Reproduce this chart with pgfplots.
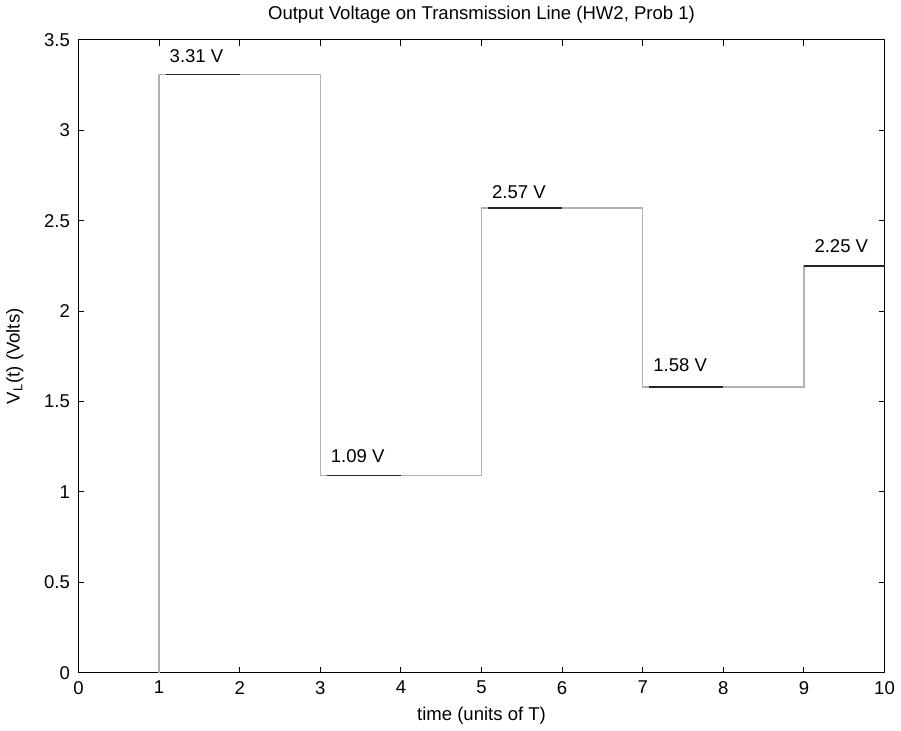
\documentclass[border=0pt]{standalone}
\usepackage{pgfplots}
\pgfplotsset{compat=1.18}
\usepackage{fontspec}
\setmainfont{Liberation Sans}

\begin{document}
\fontsize{9.3}{11}\selectfont
\begin{tikzpicture}
\begin{axis}[
  scale only axis, width=404.5pt, height=317.5pt,
  xmin=0, xmax=10, ymin=0, ymax=3.5,
  xtick={0,1,...,10}, ytick={0,0.5,...,3.5},
  tick align=inside, tick pos=both,
  major tick length=3pt,
  axis line style={line width=0.5pt},
  every tick/.style={black, line width=0.5pt},
  /pgf/number format/assume math mode=true,
  yticklabel style={/pgf/number format/fixed, /pgf/number format/precision=1, xshift=-1pt},
  xticklabel style={yshift=-1pt},
  tick label style={font=\fontsize{9.3}{11}\selectfont},
  title={Output Voltage on Transmission Line (HW2, Prob 1)},
  title style={font=\fontsize{9.3}{11}\selectfont, yshift=-1pt},
  xlabel={time (units of T)},
  ylabel={V\textsubscript{L}(t) (Volts)},
  xlabel style={yshift=0pt},
  ylabel style={yshift=4pt},
  clip=false,
]
\addplot[gray!60, line width=0.6pt] coordinates {
  (1,0) (1,3.31) (3,3.31) (3,1.09) (5,1.09) (5,2.57)
  (7,2.57) (7,1.58) (9,1.58) (9,2.25) (10,2.25)};
\addplot[black!85, line width=0.6pt] coordinates {(1.08,3.31) (2,3.31)};
\addplot[black!85, line width=0.6pt] coordinates {(3.08,1.09) (4,1.09)};
\addplot[black!85, line width=0.6pt] coordinates {(5.08,2.57) (6,2.57)};
\addplot[black!85, line width=0.6pt] coordinates {(7.08,1.58) (8,1.58)};
\addplot[black!85, line width=0.6pt] coordinates {(9,2.25) (10,2.25)};
\node[anchor=west] at (axis cs:1.05,3.41) {3.31 V};
\node[anchor=west] at (axis cs:3.05,1.20) {1.09 V};
\node[anchor=west] at (axis cs:5.05,2.66) {2.57 V};
\node[anchor=west] at (axis cs:7.05,1.70) {1.58 V};
\node[anchor=west] at (axis cs:9.05,2.36) {2.25 V};
\end{axis}
\end{tikzpicture}
\end{document}
